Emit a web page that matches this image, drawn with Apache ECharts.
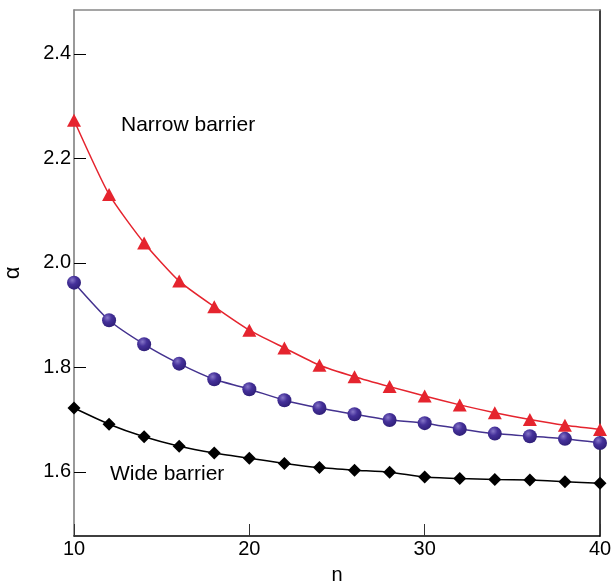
<!DOCTYPE html>
<html>
<head>
<meta charset="utf-8">
<script src="https://cdn.jsdelivr.net/npm/echarts@6/dist/echarts.min.js"></script>
<style>
  html, body { margin: 0; padding: 0; background: #fff; }
</style>
</head>
<body>
<div id="main" style="width: 611px;height:588px;"></div>
<script>
// 数据
const nValues = [10, 12, 14, 16, 18, 20, 22, 24, 26, 28, 30, 32, 34, 36, 38, 40];
const narrowBarrier = [2.273, 2.131, 2.038, 1.965, 1.916, 1.871, 1.837, 1.804, 1.782, 1.763, 1.745, 1.728, 1.713, 1.700, 1.689, 1.681];
const middleBarrier = [1.962, 1.890, 1.844, 1.807, 1.777, 1.758, 1.737, 1.722, 1.710, 1.699, 1.693, 1.682, 1.673, 1.668, 1.663, 1.655];
const wideBarrier = [1.722, 1.691, 1.667, 1.649, 1.636, 1.626, 1.616, 1.608, 1.603, 1.599, 1.590, 1.587, 1.585, 1.584, 1.581, 1.578];
const yTicks = [1.6, 1.8, 2.0, 2.2, 2.4];
const xTicks = [10, 20, 30, 40];

const pair = arr => nValues.map((n, i) => [n, arr[i]]);
const FONT = "Liberation Sans, Arial, sans-serif";

var myChart = echarts.init(document.getElementById("main"));
const options = {
  backgroundColor: "#fff",
  animation: false,
  grid: { left: 74, right: 11, top: 10, bottom: 52, outerBoundsMode: "none", containLabel: false },
  xAxis: [
    {
      type: "value",
      min: 10,
      max: 40,
      interval: 10,
      name: "n",
      nameLocation: "middle",
      nameGap: 29,
      nameTextStyle: { color: "#000", fontSize: 20, fontFamily: FONT },
      axisLine: { onZero: false, lineStyle: { color: "#000", width: 1.5 } },
      axisTick: { inside: true, length: 12, lineStyle: { color: "#333" } },
      axisLabel: { color: "#000", fontSize: 20, fontFamily: FONT, margin: 3, customValues: xTicks },
      splitLine: { show: false },
    },
    {
      // 顶部边框
      type: "value",
      position: "top",
      min: 10,
      max: 40,
      axisLine: { onZero: false, lineStyle: { color: "#888", width: 1.5 } },
      axisTick: { show: false },
      axisLabel: { show: false },
      splitLine: { show: false },
    },
  ],
  yAxis: [
    {
      type: "value",
      min: 1.477,
      max: 2.484,
      name: "α",
      nameLocation: "middle",
      nameRotate: 90,
      nameGap: 50,
      nameTextStyle: { color: "#000", fontSize: 22, fontFamily: FONT },
      axisLine: { onZero: false, lineStyle: { color: "#777", width: 1.5 } },
      axisTick: { inside: true, length: 12, customValues: yTicks, lineStyle: { color: "#000" } },
      axisLabel: {
        color: "#000",
        fontSize: 20,
        fontFamily: FONT,
        margin: 3,
        customValues: yTicks,
        formatter: v => Number(v).toFixed(1),
      },
      splitLine: { show: false },
    },
    {
      // 右侧边框
      type: "value",
      position: "right",
      min: 1.477,
      max: 2.484,
      axisLine: { show: true, onZero: false, lineStyle: { color: "#000", width: 1.5 } },
      axisTick: { show: false },
      axisLabel: { show: false },
      splitLine: { show: false },
    },
  ],
  graphic: [
    {
      type: "text",
      left: 121,
      top: 115,
      style: { text: "Narrow barrier", fill: "#000", font: "21px " + FONT },
    },
    {
      type: "text",
      left: 110,
      top: 464,
      style: { text: "Wide barrier", fill: "#000", font: "21px " + FONT },
    },
  ],
  series: [
    {
      name: "Narrow barrier",
      type: "line",
      data: pair(narrowBarrier),
      smooth: 0.2,
      symbol: "triangle",
      symbolSize: [14, 13],
      lineStyle: { color: "#e5242e", width: 1.5 },
      itemStyle: { color: "#e5242e" },
      z: 3,
    },
    {
      name: "Middle",
      type: "line",
      data: pair(middleBarrier),
      smooth: 0.2,
      symbol: "circle",
      symbolSize: 14,
      lineStyle: { color: "#44328f", width: 1.5 },
      itemStyle: {
        color: new echarts.graphic.RadialGradient(0.38, 0.32, 0.7, [
          { offset: 0, color: "#8676c8" },
          { offset: 0.45, color: "#45319a" },
          { offset: 1, color: "#2f1f78" },
        ]),
      },
      z: 3,
    },
    {
      name: "Wide barrier",
      type: "line",
      data: pair(wideBarrier),
      smooth: 0.2,
      symbol: "diamond",
      symbolSize: [13, 13],
      lineStyle: { color: "#000", width: 1.5 },
      itemStyle: { color: "#000" },
      z: 3,
    },
  ],
};
myChart.setOption(options);
</script>
</body>
</html>
